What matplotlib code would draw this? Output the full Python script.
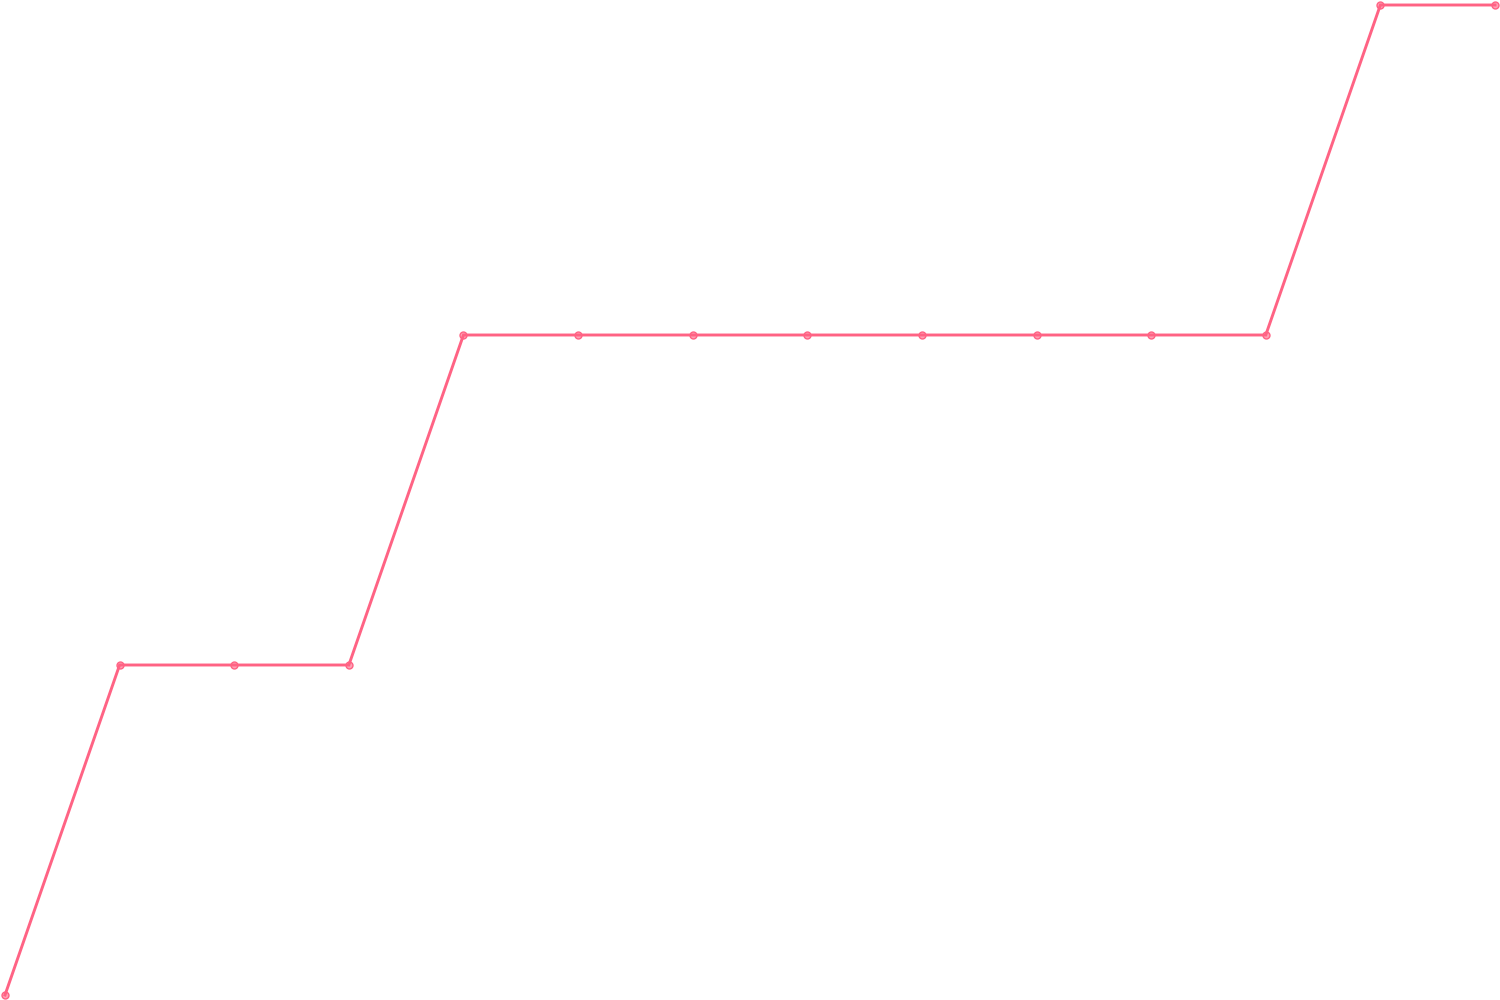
import matplotlib

matplotlib.use("Agg")
import matplotlib.pyplot as plt

# step values
x_index = list(range(14))
values = [0, 1, 1, 1, 2, 2, 2, 2, 2, 2, 2, 2, 3, 3]

LINE_COLOR = "#ff6384"

fig = plt.figure(figsize=(15, 10), dpi=100)
ax = fig.add_axes([0, 0, 1, 1])
ax.plot(
    x_index,
    values,
    color=LINE_COLOR,
    linewidth=2.1,
    marker="o",
    markersize=5,
    markerfacecolor=(1.0, 0.388, 0.518, 0.6),
    markeredgecolor=LINE_COLOR,
    markeredgewidth=1.0,
    solid_joinstyle="miter",
)

# 5px padding around the plot area
dx = 5 / 1490 * 13
dy = 5 / 990 * 3
ax.set_xlim(-dx, 13 + dx)
ax.set_ylim(-dy, 3 + dy)
ax.axis("off")

fig.savefig("out.png", facecolor="white")
plt.close(fig)
